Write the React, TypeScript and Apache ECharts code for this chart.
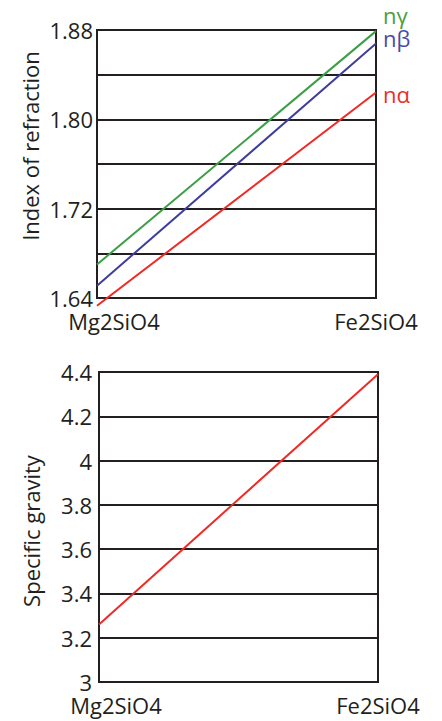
import React, { useEffect, useRef } from 'react';
import * as echarts from 'echarts';

const categories = ['Mg2SiO4', 'Fe2SiO4'];
const nGamma = [1.670, 1.879];
const nBeta = [1.651, 1.868];
const nAlpha = [1.633, 1.824];
const specificGravity = [3.26, 4.39];
const refractionTickLabels = ['1.64', '1.72', '1.80', '1.88'];
const seriesNames = ['nγ', 'nβ', 'nα'];
const axisNames = ['Index of refraction', 'Specific gravity'];

const FONT = '"Open Sans", sans-serif';
const INK = '#231f20';
const LH = 18;

export default function App() {
  const ref = useRef<HTMLDivElement>(null);
  useEffect(() => {
    if (!ref.current) return;
    const chart = echarts.init(ref.current, null, { renderer: 'svg' });

    const xAxisBase = (gridIndex: number) => ({
      type: 'category',
      gridIndex,
      data: categories,
      boundaryGap: false,
      axisLine: { show: false },
      axisTick: { show: false },
      splitLine: { show: false },
      axisLabel: {
        margin: 14,
        interval: 0,
        lineHeight: LH,
        formatter: (v: string, i: number) => (i === 0 ? `{a|${v}}` : `{b|${v}}`),
        rich: {
          a: { padding: [0, 0, 0, 34], fontSize: 22, lineHeight: LH, fontFamily: FONT, color: INK },
          b: { padding: [0, 0, 0, 0], fontSize: 22, lineHeight: LH, fontFamily: FONT, color: INK },
        },
      },
    });

    const line = (name: string, data: number[], color: string, labelColor: string, dy: number, xi: number, yi: number, showLabel: boolean) => ({
      type: 'line',
      name,
      xAxisIndex: xi,
      yAxisIndex: yi,
      data,
      symbol: 'none',
      clip: false,
      silent: true,
      lineStyle: { color, width: 2 },
      endLabel: {
        show: showLabel,
        formatter: name,
        color: labelColor,
        fontSize: 22,
        lineHeight: LH,
        fontFamily: FONT,
        distance: 7,
        offset: [0, dy],
      },
    });

    chart.setOption({
      animation: false,
      backgroundColor: '#ffffff',
      grid: [
        { left: 97, top: 30, width: 279, height: 268, show: true, borderColor: INK, borderWidth: 2 },
        { left: 99, top: 372, width: 279, height: 310, show: true, borderColor: INK, borderWidth: 2 },
      ],
      xAxis: [xAxisBase(0), xAxisBase(1)],
      yAxis: [
        {
          type: 'value',
          gridIndex: 0,
          min: 1.64,
          max: 1.88,
          interval: 0.04,
          axisLine: { show: false },
          axisTick: { show: false },
          splitLine: { lineStyle: { color: INK, width: 2 } },
          axisLabel: {
            margin: 4,
            fontSize: 22,
            lineHeight: LH,
            fontFamily: FONT,
            color: INK,
            formatter: (v: number) => (refractionTickLabels.includes(v.toFixed(2)) ? v.toFixed(2) : ''),
          },
        },
        {
          type: 'value',
          gridIndex: 1,
          min: 3,
          max: 4.4,
          interval: 0.2,
          axisLine: { show: false },
          axisTick: { show: false },
          splitLine: { lineStyle: { color: INK, width: 2 } },
          axisLabel: { margin: 7, fontSize: 22, lineHeight: LH, fontFamily: FONT, color: INK },
        },
      ],
      series: [
        line(seriesNames[0], nGamma, '#3c9e46', '#4a9e3a', -16, 0, 0, true),
        line(seriesNames[1], nBeta, '#3f3d9c', '#4a4aa8', -5, 0, 0, true),
        line(seriesNames[2], nAlpha, '#ee2a24', '#e8302a', 1, 0, 0, true),
        line('Specific gravity', specificGravity, '#ee2a24', '#ee2a24', 0, 1, 1, false),
      ],
      graphic: [
        {
          type: 'text', x: 30, y: 146, rotation: Math.PI / 2,
          style: { text: axisNames[0], fontSize: 22, fontFamily: FONT, fill: INK, align: 'center', verticalAlign: 'middle' },
        },
        {
          type: 'text', x: 31, y: 531, rotation: Math.PI / 2,
          style: { text: axisNames[1], fontSize: 22, fontFamily: FONT, fill: INK, align: 'center', verticalAlign: 'middle' },
        },
      ],
    });
    return () => chart.dispose();
  }, []);
  return <div ref={ref} style={{ position: 'absolute', left: 0, top: 0, width: 442, height: 721, background: '#fff' }} />;
}
